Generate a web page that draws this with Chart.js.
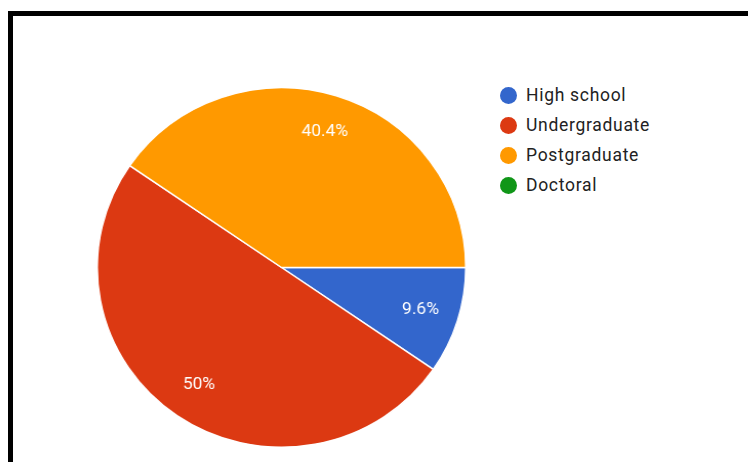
<!DOCTYPE html>
<html>
<head>
<meta charset="utf-8">
<script src="https://cdn.jsdelivr.net/npm/chart.js@4"></script>
<style>
  html, body { margin: 0; padding: 0; background: #fff; }
  body { width: 748px; height: 462px; position: relative; overflow: hidden; font-family: Roboto, Arial, sans-serif; }
  #frame { position: absolute; left: 8px; top: 11px; width: 760px; height: 470px; border-left: 5px solid #000; border-top: 5px solid #000; box-sizing: border-box; }
  #pieBox { position: absolute; left: 101px; top: 87px; width: 361px; height: 361px; transform: scaleX(1.025); transform-origin: 50% 50%; }
  #legend { position: absolute; left: 500px; top: 80px; }
  .item { height: 30px; display: flex; align-items: center; font-size: 17.5px; color: #222; letter-spacing: 0.7px; }
  .dot { width: 17px; height: 17px; border-radius: 50%; margin-right: 9px; }
</style>
</head>
<body>
<div id="frame"></div>
<div id="pieBox"><canvas id="pie"></canvas></div>
<div id="legend"></div>
<script>
// Education level of respondents
const categories = ['High school', 'Undergraduate', 'Postgraduate', 'Doctoral'];
const shares = [9.6, 50, 40.4, 0];
const sliceColors = ['#3366cc', '#dc3912', '#ff9900', '#109618'];

// Legend on the right
const legend = document.getElementById('legend');
categories.forEach((name, i) => {
  const row = document.createElement('div');
  row.className = 'item';
  const dot = document.createElement('span');
  dot.className = 'dot';
  dot.style.background = sliceColors[i];
  row.appendChild(dot);
  row.appendChild(document.createTextNode(name));
  legend.appendChild(row);
});

// Percent labels placed inside each slice
const sliceLabels = {
  id: 'sliceLabels',
  afterDatasetsDraw(chart) {
    const ctx = chart.ctx;
    const meta = chart.getDatasetMeta(0);
    ctx.save();
    ctx.fillStyle = '#ffffff';
    ctx.font = '17px Roboto, Arial, sans-serif';
    ctx.textAlign = 'center';
    ctx.textBaseline = 'middle';
    meta.data.forEach((arc, i) => {
      const v = chart.data.datasets[0].data[i];
      if (!v) return;
      const p = arc.getProps(['x', 'y', 'startAngle', 'endAngle', 'outerRadius'], true);
      const mid = (p.startAngle + p.endAngle) / 2;
      const r = p.outerRadius * 0.79;
      ctx.fillText(v + '%', p.x + Math.cos(mid) * r, p.y + Math.sin(mid) * r);
    });
    ctx.restore();
  }
};

new Chart(document.getElementById('pie'), {
  type: 'pie',
  data: {
    labels: categories,
    datasets: [{
      data: shares,
      backgroundColor: sliceColors,
      borderColor: '#ffffff',
      borderWidth: 1.5
    }]
  },
  options: {
    responsive: true,
    maintainAspectRatio: false,
    animation: false,
    rotation: 90,
    layout: { padding: 0 },
    plugins: {
      legend: { display: false },
      tooltip: { enabled: false }
    }
  },
  plugins: [sliceLabels]
});
</script>
</body>
</html>
